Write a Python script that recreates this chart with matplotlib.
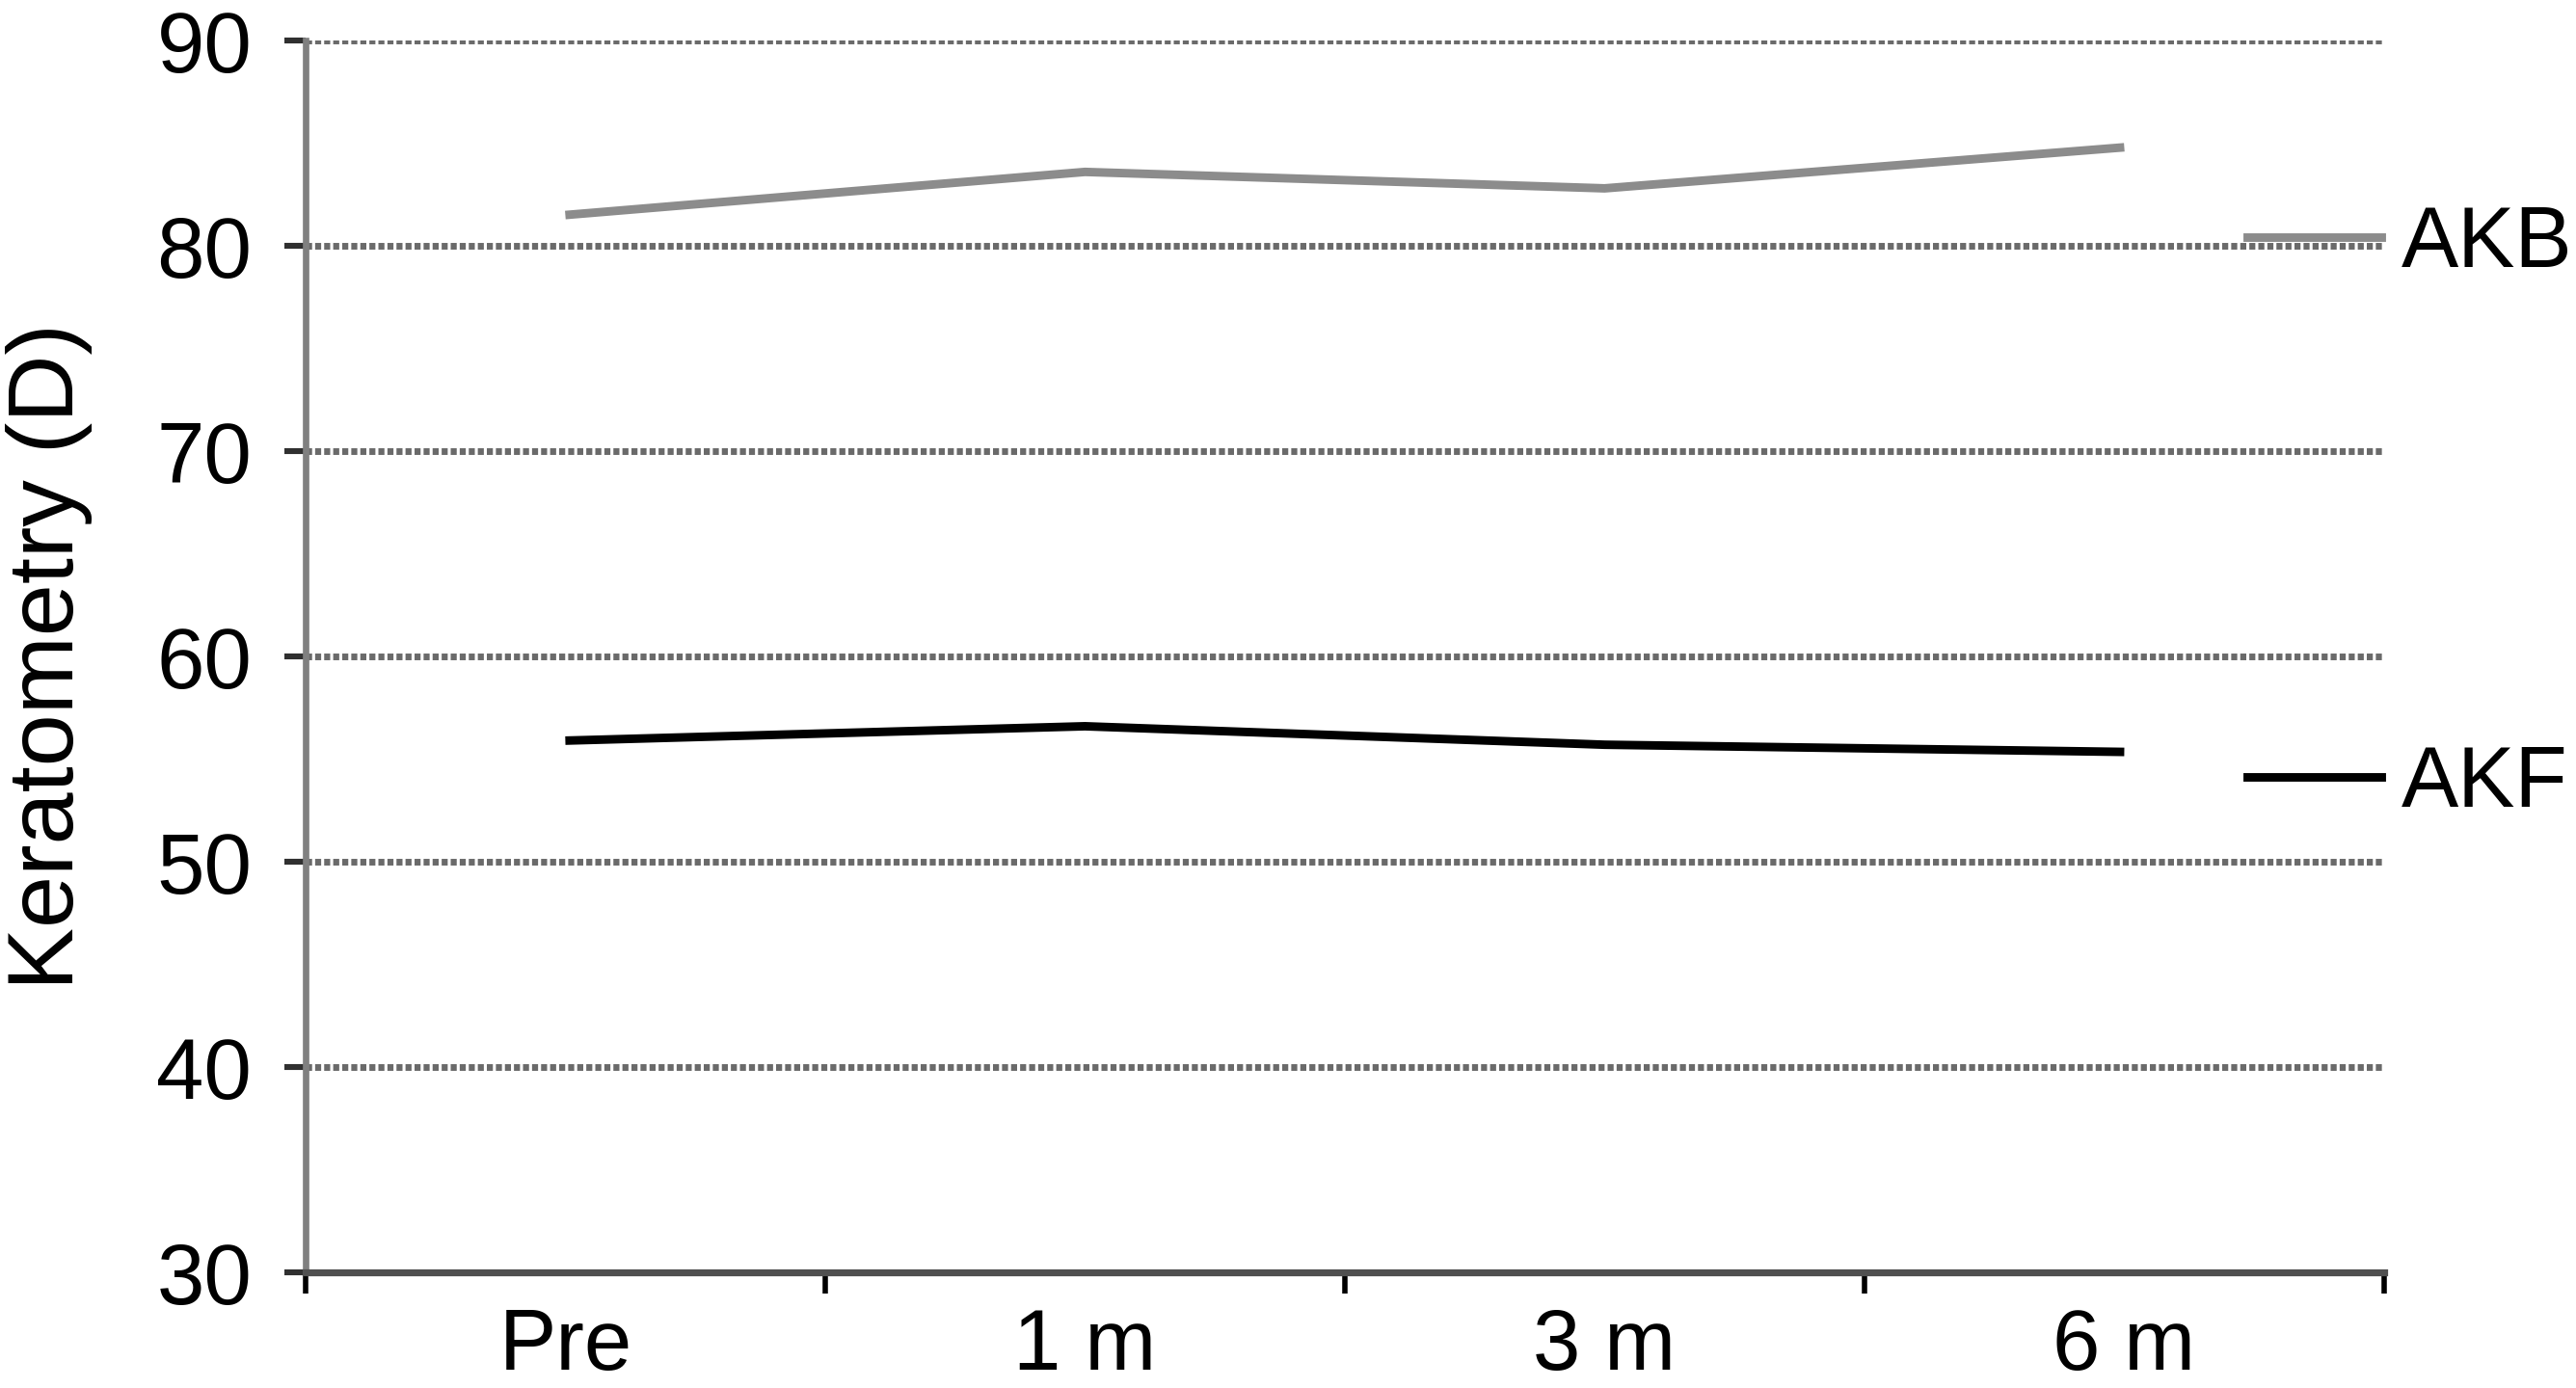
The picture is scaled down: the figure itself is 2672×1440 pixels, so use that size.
import matplotlib.pyplot as plt
from matplotlib.lines import Line2D

plt.rcParams['font.family'] = ['Liberation Sans', 'DejaVu Sans']

timepoints = ['Pre', '1 m', '3 m', '6 m']
akb = [81.5, 83.6, 82.8, 84.8]
akf = [55.9, 56.6, 55.7, 55.35]
y_ticks = [30, 40, 50, 60, 70, 80, 90]

fig = plt.figure(figsize=(13.36, 7.2), dpi=200)
ax = fig.add_axes([0.1186, 0.0833, 0.8069, 0.8875])

x = list(range(len(timepoints)))
ax.plot(x, akb, color='#8c8c8c', lw=3.2, solid_capstyle='butt', zorder=3)
ax.plot(x, akf, color='black', lw=3.2, solid_capstyle='butt', zorder=3)

ax.set_xlim(-0.5, len(timepoints) - 0.5)
ax.set_ylim(30, 90)
ax.set_yticks(y_ticks)
ax.set_xticks(x)
ax.set_xticklabels(timepoints)
ax.set_xticks([i - 0.5 for i in range(len(timepoints) + 1)], minor=True)
ax.tick_params(axis='x', which='major', length=0, pad=13, labelsize=32)
ax.tick_params(axis='x', which='minor', length=8, width=2, color='black', direction='out')
ax.tick_params(axis='y', length=8, width=2.2, color='#303030', pad=12, labelsize=32)

for yv in y_ticks[1:]:
    ax.axhline(yv, color='#6a6a6a', lw=2.5, ls=(0, (0.9, 0.45)), zorder=1)

for s in ['top', 'right']:
    ax.spines[s].set_visible(False)
ax.spines['left'].set_color('#808080')
ax.spines['left'].set_linewidth(2.4)
ax.spines['bottom'].set_color('#505050')
ax.spines['bottom'].set_linewidth(2.6)

ax.set_ylabel('Keratometry (D)', fontsize=35, labelpad=24)

handles = [Line2D([], [], color='#8c8c8c', lw=3.2),
           Line2D([], [], color='black', lw=3.2)]
ax.legend(handles, ['AKB', 'AKF'], loc='upper left', bbox_to_anchor=(0.934, 0.867),
          frameon=False, fontsize=32, handlelength=1.57, handletextpad=0.23,
          labelspacing=5.36, borderaxespad=0, borderpad=0)

plt.savefig('out.png', dpi=200)
